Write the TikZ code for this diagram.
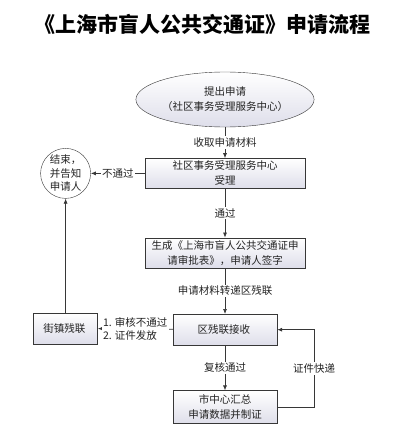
\documentclass[tikz,border=0pt]{standalone}
\usepackage{fontspec}
\setmainfont{Noto Sans CJK SC}
\usepackage{xcolor}
\usepackage{tikz}
\usetikzlibrary{
arrows.meta,
positioning,
shapes.geometric
}
\definecolor{boxbot}{RGB}{222,222,234}
\definecolor{linegray}{RGB}{55,55,55}
\definecolor{textgray}{RGB}{35,35,35}

\begin{document}
\begin{tikzpicture}[
x=1pt,y=1pt,
node distance=31pt,
font=\fontsize{10.5}{15}\selectfont,
text=textgray,
box/.style={
draw=linegray,
top color=white,
bottom color=boxbot,
minimum width=160pt,
minimum height=30pt,
inner sep=1pt,
align=center
},
smallbox/.style={
box,
minimum width=104pt,
minimum height=31pt
},
startnode/.style={
ellipse,
draw=linegray,
top color=white,
bottom color=boxbot,
minimum width=134pt,
minimum height=55pt,
inner sep=0pt,
align=center
},
endnode/.style={
circle,
draw=linegray,
fill=white,
minimum size=50pt,
inner sep=0pt,
align=center,
font=\fontsize{10.5}{13.5}\selectfont
},
lbl/.style={
fill=white,
inner sep=1.5pt
},
arrow/.style={-{Latex[length=5pt,width=4pt]},draw=linegray,line width=0.7pt}
]

\useasboundingbox (0,0) rectangle (402,-433);

\node[font=\bfseries\fontsize{21}{25}\selectfont,text=black] (title) at (202.5,-24) {《上海市盲人公共交通证》申请流程};

\node[startnode] (apply) at (225,-99.5) {
提出申请\\
（社区事务受理服务中心）
};

\node[box,below=of apply] (accept) {
社区事务受理服务中心\\
受理
};

\node[box,below=49pt of accept] (form) {
生成《上海市盲人公共交通证申\\
请审批表》，申请人签字
};

\node[smallbox,below=46pt of form] (district) {
区残联接收
};

\node[smallbox,minimum height=33pt,below=45pt of district] (city) {
市中心汇总\\
申请数据并制证
};

\node[endnode,left=54pt of accept] (finish) {
结束，\\
并告知\\
申请人
};

\node[box,minimum width=64pt,minimum height=31pt,below=114pt of finish] (street) {
街镇残联
};

\draw[arrow] (apply) -- node[lbl]{收取申请材料} (accept);
\draw[arrow] (accept) -- node[lbl]{通过} (form);
\draw[arrow] (form) -- node[lbl]{申请材料转递区残联} (district);
\draw[arrow] (district) -- node[lbl]{复核通过} (city);

\draw[arrow] (accept) -- node[lbl]{不通过} (finish);
\draw[arrow] (district) -- node[lbl,align=left,font=\fontsize{10.5}{13}\selectfont]{1. 审核不通过\\2. 证件发放} (street);
\draw[arrow] (street) -- (finish);

\draw[arrow] (city.east) -- ++(37,0) |- node[pos=0.25,lbl]{证件快递} (district.east);

\end{tikzpicture}
\end{document}
